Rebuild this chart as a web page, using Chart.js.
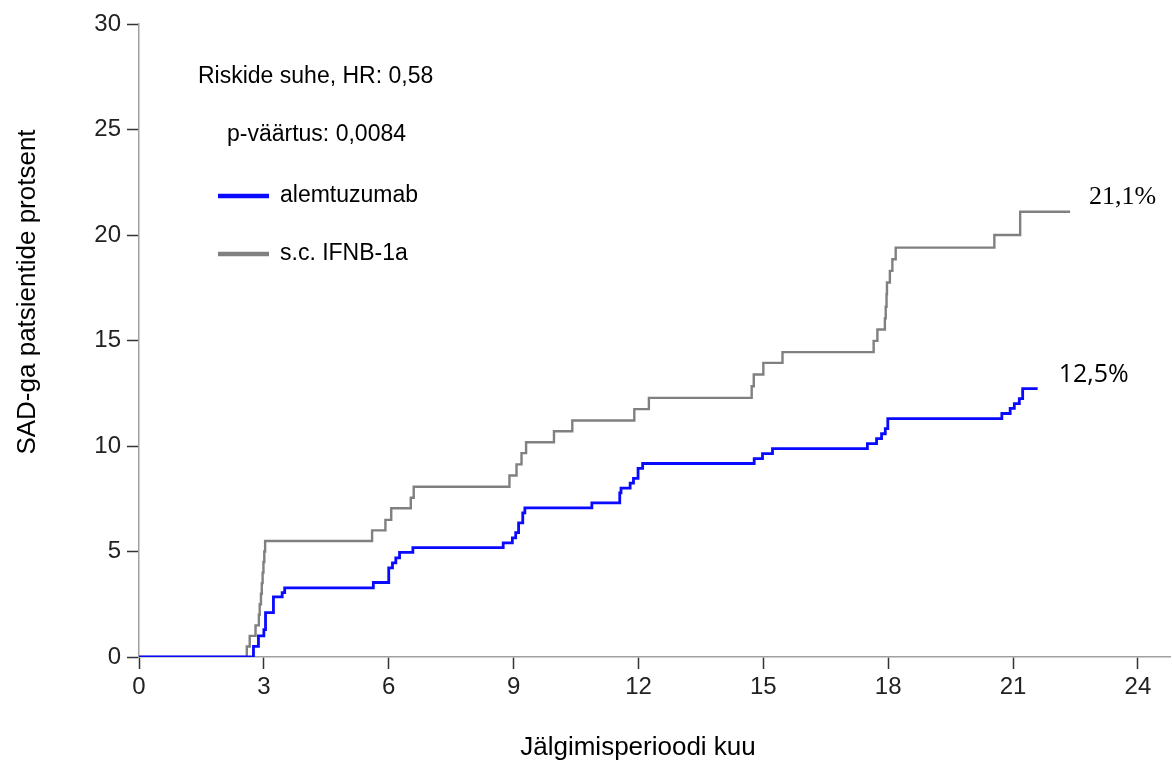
<!DOCTYPE html>
<html lang="et">
<head>
<meta charset="UTF-8">
<title>SAD-ga patsientide protsent</title>
<script src="https://cdn.jsdelivr.net/npm/chart.js@4.4.1/dist/chart.umd.min.js"></script>
<style>
  body { margin: 0; background: #fff; }
  .wrap { width: 1172px; height: 765px; position: relative; }
</style>
</head>
<body>
<div class="wrap"><canvas id="km" width="1172" height="765"></canvas></div>
<script>
// months / cumulative percent
const alemX = [0, 2.75, 2.87, 3.0, 3.04, 3.23, 3.44, 3.5, 5.63, 6.0, 6.09, 6.17, 6.26, 6.58,
  8.75, 8.97, 9.05, 9.12, 9.22, 9.27, 10.88, 11.55, 11.58, 11.8, 11.88, 11.99, 12.1,
  14.78, 14.98, 15.22, 17.5, 17.72, 17.84, 17.93, 17.99, 20.73, 20.93, 21.03, 21.15, 21.23, 21.59];
const alemY = [0, 0.5, 1.0, 1.3, 2.1, 2.85, 3.05, 3.28, 3.53, 4.22, 4.46, 4.7, 4.96, 5.18,
  5.41, 5.65, 5.89, 6.36, 6.83, 7.07, 7.3, 7.78, 8.0, 8.24, 8.47, 8.94, 9.17,
  9.4, 9.64, 9.88, 10.11, 10.35, 10.58, 10.82, 11.3, 11.54, 11.78, 12.01, 12.25, 12.72, 12.72];

const ifnbX = [0, 2.59, 2.66, 2.8, 2.88, 2.9, 2.93, 2.95, 2.97, 2.99, 3.01, 3.03, 5.6, 5.92, 6.06,
  6.53, 6.6, 8.9, 9.07, 9.19, 9.3, 9.97, 10.41, 11.9, 12.25, 14.72, 14.77, 15.0, 15.46,
  17.65, 17.74, 17.92, 17.94, 17.96, 17.97, 18.04, 18.1, 18.18, 20.55, 21.17, 22.37];
const ifnbY = [0, 0.5, 1.0, 1.5, 2.0, 2.5, 3.0, 3.5, 4.0, 4.5, 5.0, 5.5, 6.0, 6.5, 7.05,
  7.55, 8.07, 8.6, 9.13, 9.66, 10.18, 10.7, 11.21, 11.75, 12.28, 12.83, 13.39, 13.94, 14.45,
  14.98, 15.52, 16.05, 16.6, 17.2, 17.75, 18.3, 18.85, 19.4, 20.0, 21.1, 21.1];

const xTicks = [0, 3, 6, 9, 12, 15, 18, 21, 24];
const yTicks = [0, 5, 10, 15, 20, 25, 30];

const seriesNames = ['alemtuzumab', 's.c. IFNB-1a'];
const endLabels = ['12,5%', '21,1%'];
const statLines = ['Riskide suhe, HR: 0,58', 'p-väärtus: 0,0084'];
const xTitle = 'Jälgimisperioodi kuu';
const yTitle = 'SAD-ga patsientide protsent';

const BLUE = '#0a0aff';
const GRAY = '#808080';
const FONT = '"Liberation Sans", Arial, sans-serif';

function pts(xs, ys) {
  return xs.map((x, i) => ({ x: x, y: ys[i] }));
}

// text block, legend, axis titles and end-of-curve labels
const extras = {
  id: 'extras',
  afterDatasetsDraw(chart) {
    const ctx = chart.ctx;
    const a = chart.chartArea;
    const sx = chart.scales.x, sy = chart.scales.y;
    ctx.save();
    ctx.fillStyle = '#000';
    ctx.textBaseline = 'middle';
    ctx.textAlign = 'left';
    ctx.font = '23px ' + FONT;
    ctx.fillText(statLines[0], a.left + 59, a.top + 53);
    ctx.fillText(statLines[1], a.left + 88, a.top + 111);

    const cols = [BLUE, GRAY];
    const ly = [a.top + 172, a.top + 230];
    for (let i = 0; i < 2; i++) {
      ctx.strokeStyle = cols[i];
      ctx.lineWidth = 4.5;
      ctx.beginPath();
      ctx.moveTo(a.left + 79, ly[i]);
      ctx.lineTo(a.left + 130, ly[i]);
      ctx.stroke();
      ctx.fillText(seriesNames[i], a.left + 141, ly[i]);
    }

    // end labels
    ctx.font = '25px "Open Sans", "Liberation Sans", sans-serif';
    ctx.fillText(endLabels[0], sx.getPixelForValue(alemX[alemX.length - 1]) + 21,
      sy.getPixelForValue(alemY[alemY.length - 1]) - 14);
    ctx.font = '26px "Liberation Serif", serif';
    ctx.fillText(endLabels[1], sx.getPixelForValue(ifnbX[ifnbX.length - 1]) + 19,
      sy.getPixelForValue(ifnbY[ifnbY.length - 1]) - 15);

    // axis titles
    ctx.font = '26px ' + FONT;
    ctx.textAlign = 'center';
    ctx.fillText(xTitle, 638, 748);
    ctx.translate(28, 292);
    ctx.rotate(-Math.PI / 2);
    ctx.fillText(yTitle, 0, 0);
    ctx.restore();
  }
};

new Chart(document.getElementById('km'), {
  type: 'line',
  data: {
    datasets: [
      {
        label: seriesNames[0],
        data: pts(alemX, alemY),
        borderColor: BLUE,
        borderWidth: 2.8,
        stepped: 'before',
        pointRadius: 0,
        fill: false
      },
      {
        label: seriesNames[1],
        data: pts(ifnbX, ifnbY),
        borderColor: GRAY,
        borderWidth: 2.4,
        stepped: 'before',
        pointRadius: 0,
        fill: false
      }
    ]
  },
  options: {
    responsive: false,
    animation: false,
    layout: { padding: { top: 24, right: 2, left: 0, bottom: 0 } },
    plugins: {
      legend: { display: false },
      tooltip: { enabled: false }
    },
    scales: {
      x: {
        type: 'linear',
        min: 0,
        max: 24.77,
        afterBuildTicks: s => { s.ticks = xTicks.map(v => ({ value: v })); },
        afterFit: s => { s.height = 108; },
        border: { display: true, color: '#a0a0a0', width: 1.5 },
        grid: { drawOnChartArea: false, drawTicks: true, tickLength: 12, tickColor: '#333', tickWidth: 1.5 },
        ticks: { color: '#222', font: { family: FONT, size: 24 }, padding: 4, maxRotation: 0 }
      },
      y: {
        type: 'linear',
        min: 0,
        max: 30,
        afterBuildTicks: s => { s.ticks = yTicks.map(v => ({ value: v })); },
        afterFit: s => { s.width = 139; },
        border: { display: true, color: '#a0a0a0', width: 1.5 },
        grid: { drawOnChartArea: false, drawTicks: true, tickLength: 12, tickColor: '#333', tickWidth: 1.5 },
        ticks: { color: '#222', font: { family: FONT, size: 24 }, padding: 6 }
      }
    }
  },
  plugins: [extras]
});
</script>
</body>
</html>
